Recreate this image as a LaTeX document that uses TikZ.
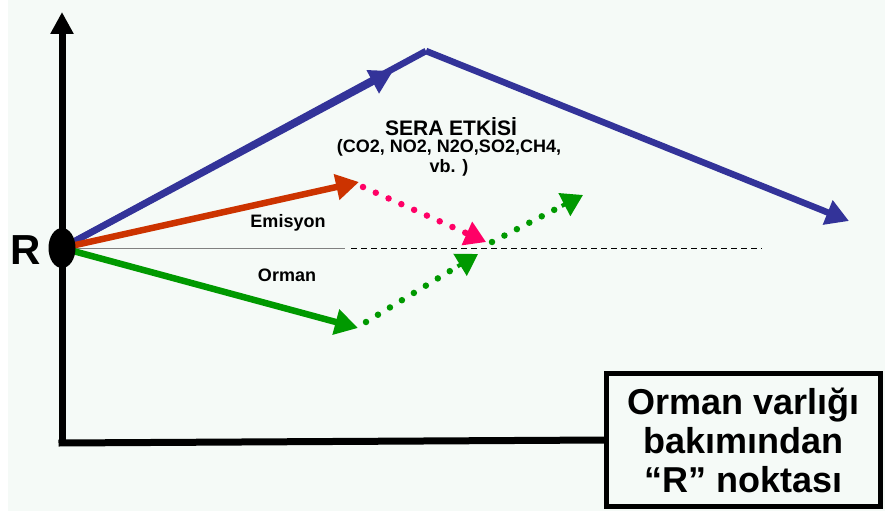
\documentclass[tikz,border=0pt]{standalone}
\usepackage{fontspec}
\setmainfont{Liberation Sans}
\usetikzlibrary{arrows.meta,calc}
\definecolor{bgc}{HTML}{F5FAF7}
\definecolor{cblue}{HTML}{333399}
\definecolor{cred}{HTML}{CC3300}
\definecolor{cgreen}{HTML}{009900}
\definecolor{cpink}{HTML}{FF0066}
\tikzset{
  solidarr/.style={line width=6.5pt, -{Triangle[length=23pt,width=25pt]}},
  dotline/.style={line width=6.5pt, line cap=round, dash pattern=on 0pt off 14pt},
  headarr/.style={line width=4pt, -{Triangle[length=21pt,width=25pt]}},
  lbl/.style={font=\bfseries, inner sep=0pt, align=center},
}
\begin{document}
\begin{tikzpicture}[x=1pt,y=-1pt]
\useasboundingbox (0,0) rectangle (885,511);
\fill[bgc] (8,0) rectangle (885,511);
% coordinates
\coordinate (top) at (62,12);
\coordinate (origin) at (62,443);
\coordinate (R) at (62,248);
\coordinate (bmid) at (393,71);
\coordinate (peak) at (426,51);
\coordinate (bend) at (849,221);
\coordinate (rend) at (359,182);
\coordinate (gend) at (358,328);
\coordinate (pstart) at (363,187);
\coordinate (pend) at (486,242);
\coordinate (g1start) at (366,322);
\coordinate (g1end) at (478,254);
\coordinate (g2start) at (492,242);
\coordinate (g2end) at (583,195);
\coordinate (hl) at (345,248);
\coordinate (dl1) at (351,248);
\coordinate (dl2) at (762,248);
% box
\node[draw=black, line width=4.5pt, fill=bgc, minimum width=274pt, minimum height=133pt, inner sep=0pt, font=\bfseries\fontsize{36}{39}\selectfont, align=center] (box) at (743.5,440) {Orman varlığı\\bakımından\\“R” noktası};
% axes
\draw[line width=7pt, -{Triangle[length=22pt,width=22pt]}] (origin) -- (top);
\draw[line width=7pt] ([xshift=-3.5pt]origin) -- (box.west);
% reference line
\draw[gray, line width=1pt] (R) -- (hl);
\draw[black, line width=1pt, dash pattern=on 6pt off 4pt] (dl1) -- (dl2);
% blue
\draw[cblue, line width=6.5pt] (R) -- (peak);
\draw[cblue, solidarr] (R) -- (bmid);
\draw[cblue, solidarr] (peak) -- (bend);
% red and green
\draw[cred, solidarr] (R) -- (rend);
\draw[cgreen, solidarr] (R) -- (gend);
% dotted
\draw[cpink, dotline] (pstart) -- ($(pend)!20pt!(pstart)$);
\draw[cpink, headarr] ($(pend)!24pt!(pstart)$) -- (pend);
\draw[cgreen, dotline] (g1start) -- ($(g1end)!20pt!(g1start)$);
\draw[cgreen, headarr] ($(g1end)!24pt!(g1start)$) -- (g1end);
\draw[cgreen, dotline] (g2start) -- ($(g2end)!20pt!(g2start)$);
\draw[cgreen, headarr] ($(g2end)!24pt!(g2start)$) -- (g2end);
% R dot
\fill[black] (R) ellipse (13.5pt and 20pt);
\node[lbl, font=\bfseries\fontsize{42}{46}\selectfont] (rlabel) at (26,250) {R};
% labels
\node[lbl, font=\bfseries\fontsize{18}{20}\selectfont] (emis) at (288,223) {Emisyon};
\node[lbl, font=\bfseries\fontsize{18}{20}\selectfont] (orman) at (287,275) {Orman};
\node[lbl, font=\bfseries\fontsize{21}{24}\selectfont] (sera) at (451,127) {SERA ETKİSİ};
\node[lbl, font=\bfseries\fontsize{18}{20}\selectfont] (gas) at (449,158) {(CO2, NO2, N2O,SO2,CH4,\\vb. )};
\end{tikzpicture}
\end{document}
